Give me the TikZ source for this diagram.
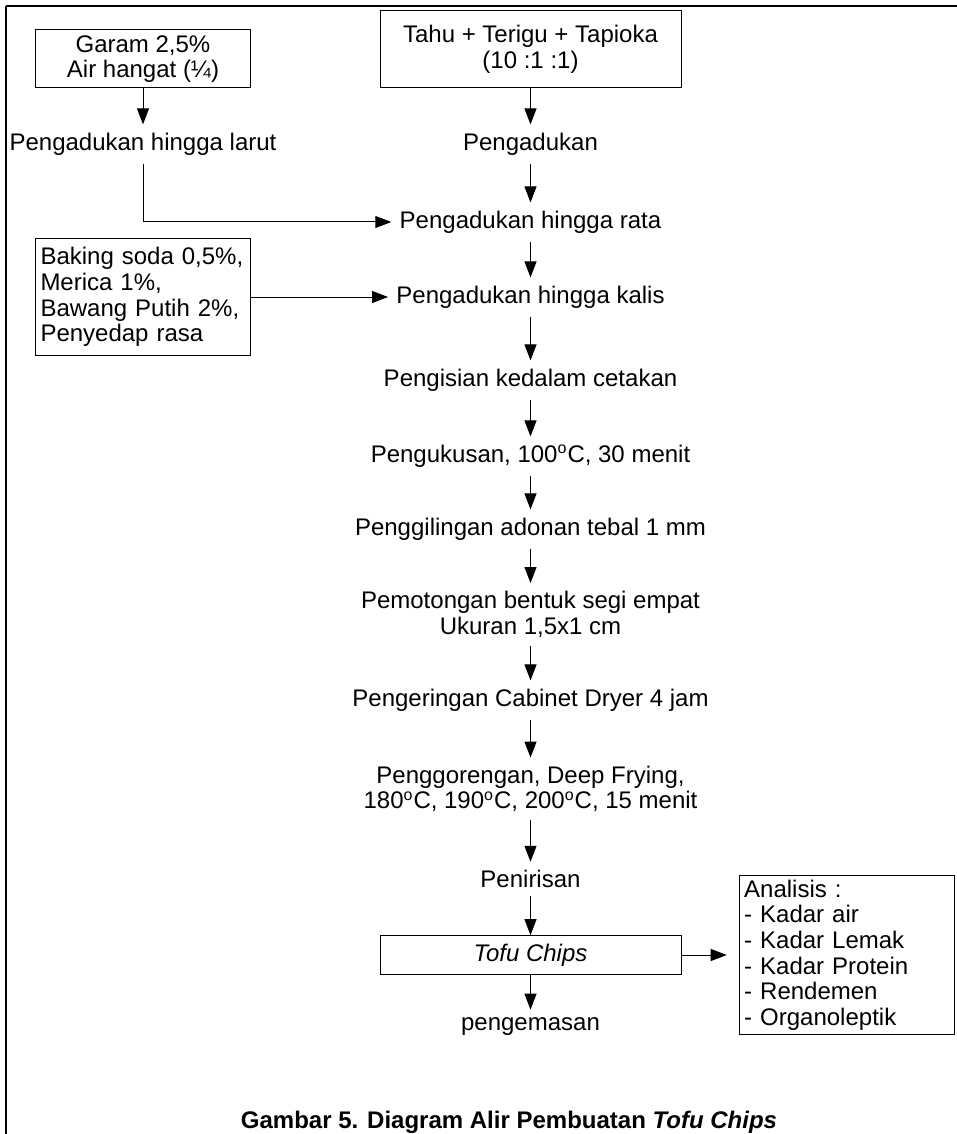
\documentclass[tikz,border=0pt]{standalone}
\usepackage{fontspec}
\setmainfont{Liberation Sans}
\usetikzlibrary{calc, arrows.meta}

\begin{document}
\begin{tikzpicture}[x=0.5pt, y=-0.5pt,
        every node/.style={font=\fontsize{12}{12.8}\selectfont},
        box/.style={draw, line width=0.5pt, align=center, inner sep=0pt},
        stage/.style={align=center, inner xsep=4pt, inner ysep=4pt},
        flow/.style={-{Triangle[length=8pt, width=6pt]}, line width=0.5pt}]
        \useasboundingbox (0,0) rectangle (957,1134);

        % frame
        \draw[line width=1pt] (6,6) -- (957,6);
        \draw[line width=0.8pt] (6,6) -- (6,1134);

        % define inputs
        \coordinate (Garam_C) at (143,59);
        \coordinate (Tahu_C) at (530.5,49);
        \coordinate (Baking_C) at (143,297);

        \node (Garam) at (Garam_C) [box, minimum width=107.5pt, minimum height=29pt] {Garam 2,5\%\\Air hangat (¼)};
        \node (Tahu) at (Tahu_C) [box, minimum width=150.5pt, minimum height=38.3pt] {Tahu + Terigu + Tapioka\\(10 :1 :1)};
        \node (Baking) at (Baking_C) [box, minimum width=107.5pt, minimum height=58pt,
            text width=102.5pt, align=left, inner xsep=2.5pt]
            {Baking soda 0,5\%,\\Merica 1\%,\\Bawang Putih 2\%,\\Penyedap rasa};

        % process stages
        \node (Aduk_larut) at (143,144) [stage] {Pengadukan hingga larut};
        \node (Aduk) at (530.5,144) [stage] {Pengadukan};
        \node (Aduk_rata) at (530.5,222) [stage] {Pengadukan hingga rata};
        \node (Aduk_kalis) at (530.5,297) [stage] {Pengadukan hingga kalis};
        \node (Isi) at (530.5,380) [stage] {Pengisian kedalam cetakan};
        \node (Kukus) at (530.5,456) [stage] {Pengukusan, 100\textsuperscript{o}C, 30 menit};
        \node (Giling) at (530.5,529) [stage] {Penggilingan adonan tebal 1 mm};
        \node (Potong) at (530.5,614.5) [stage] {Pemotongan bentuk segi empat\\Ukuran 1,5x1 cm};
        \node (Kering) at (530.5,700) [stage] {Pengeringan Cabinet Dryer 4 jam};
        \node (Goreng) at (530.5,789) [stage] {Penggorengan, Deep Frying,\\180\textsuperscript{o}C, 190\textsuperscript{o}C, 200\textsuperscript{o}C, 15 menit};
        \node (Tiris) at (530.5,879) [stage] {Penirisan};

        % product
        \coordinate (Tofu_C) at (530.5,955);
        \node (Tofu) at (Tofu_C) [box, minimum width=150.5pt, minimum height=19.3pt] {\textit{Tofu Chips}};
        \node (Kemas) at (530.5,1027) [stage] {pengemasan};

        % Analisis
        \node (Analisis) at (847,955) [box, minimum width=107.8pt, minimum height=79.5pt,
            text width=102.8pt, align=left, inner xsep=2.5pt]
            {Analisis :\\- Kadar air\\- Kadar Lemak\\- Kadar Protein\\- Rendemen\\- Organoleptik};

        % arrows
        \draw[flow] (Garam) -- (Aduk_larut);
        \draw[flow] (Tahu) -- (Aduk);
        \draw[flow] (Aduk_larut) |- (Aduk_rata);
        \draw[flow] (Aduk) -- (Aduk_rata);
        \draw[flow] (Baking.east) -- (Aduk_kalis.west);
        \draw[flow] (Aduk_rata) -- (Aduk_kalis);
        \draw[flow] (Aduk_kalis) -- (Isi);
        \draw[flow] (Isi) -- (Kukus);
        \draw[flow] (Kukus) -- (Giling);
        \draw[flow] (Giling) -- (Potong);
        \draw[flow] (Potong) -- (Kering);
        \draw[flow] (Kering) -- (Goreng);
        \draw[flow] (Goreng) -- (Tiris);
        \draw[flow] (Tiris) -- (Tofu);
        \draw[flow] (Tofu) -- (Kemas);
        \draw[flow, shorten >=6pt] (Tofu) -- (Analisis);

        % caption
        \node (Judul) at (509,1122) [font=\fontsize{12}{12.8}\selectfont\bfseries]
            {Gambar 5. Diagram Alir Pembuatan \textit{Tofu Chips}};
\end{tikzpicture}
\end{document}
